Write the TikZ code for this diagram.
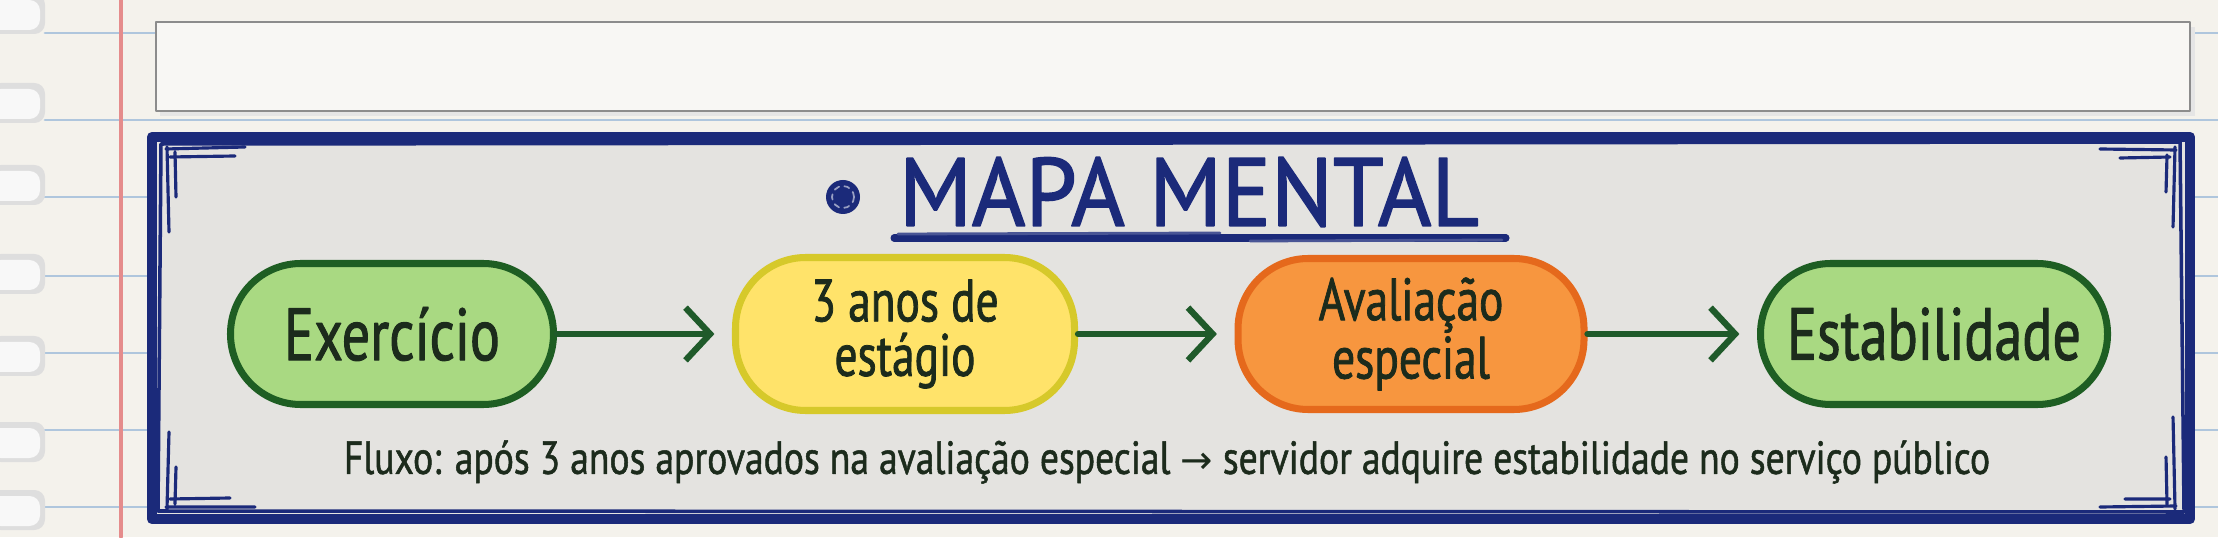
\documentclass[tikz,border=0pt]{standalone}
\usepackage{fontspec}
\setmainfont{PT Sans}
\newfontfamily\handfont{PT Sans}[FakeStretch=0.76, FakeBold=1.3]
\newfontfamily\notafont{PT Sans}[FakeStretch=0.81, FakeBold=1.1]
\newfontfamily\titlefont{PT Sans}[FakeStretch=0.95, FakeBold=1.6]
\newfontfamily\symfont{DejaVu Sans}
\usetikzlibrary{arrows.meta}
\definecolor{papel}{HTML}{F4F2EC}
\definecolor{quadro}{HTML}{E4E3E0}
\definecolor{azul}{HTML}{1B2A7A}
\definecolor{pauta}{HTML}{AFC6DD}
\definecolor{margem}{HTML}{E58C8C}
\definecolor{tinta}{HTML}{1C2B1C}
\definecolor{verde}{HTML}{A9D982}
\definecolor{verdeesc}{HTML}{1E5E23}
\definecolor{amarelo}{HTML}{FFE36A}
\definecolor{amareloesc}{HTML}{D6C92A}
\definecolor{laranja}{HTML}{F7963F}
\definecolor{laranjaesc}{HTML}{E5691C}
\definecolor{seta}{HTML}{1F5A2A}
\tikzset{
	etapa/.style={rounded corners=20pt, line width=2pt, align=center, inner sep=0pt, text=tinta},
	grande/.style={font=\handfont\fontsize{21}{22}\selectfont},
	duas/.style={font=\handfont\fontsize{17}{15.5}\selectfont},
	fluxo/.style={line width=1.8pt, draw=seta, shorten >=5pt}
}
\begin{document}
\begin{tikzpicture}[line join=round, line cap=round, >={Straight Barb[length=7pt,width=15pt]}]
				\def\W{22.18}
				\def\H{5.37}
				\path
				(1.52,0.18) coordinate (Q1)
				(21.9,4.00) coordinate (Q2)
				(3.92,2.03) coordinate (E1)
				(9.05,2.03) coordinate (E2)
				(14.11,2.03) coordinate (E3)
				(19.34,2.03) coordinate (E4)
				(8.43,3.40) coordinate (B)
				;
				\useasboundingbox (0,0) rectangle (\W,\H);
				\fill[papel] (0,0) rectangle (\W,\H);
				
				% folha: pautas, margem, furos
				\foreach \y in {5.04,4.17,3.40,2.61,1.84,1.07,0.30}
					\draw[pauta, line width=0.8pt] (0.45,\y) -- (\W,\y);
				\draw[margem, line width=0.9pt] (1.21,0) -- (1.21,\H);
				\foreach \y in {5.23,4.34,3.52,2.63,1.81,0.95,0.27}
				{
					\fill[black!13, rounded corners=3pt] (-0.1,\y-0.2) rectangle (0.45,\y+0.2);
					\fill[papel!70!black!8, rounded corners=3pt] (-0.1,\y-0.16) rectangle (0.40,\y+0.14);
				}
				
				% tira de cima
				\fill[black!10] (1.60,4.21) rectangle (21.95,5.10);
				\filldraw[fill=papel!60!white, draw=black!45, line width=0.6pt] (1.56,4.26) rectangle (21.9,5.15);
				
				% quadro
				\fill[quadro] (Q1) rectangle (Q2);
				\draw[azul, line width=3pt] (Q1) rectangle (Q2);
				\draw[azul, line width=1pt] (1.58,0.26) -- (1.61,3.93) -- (21.8,3.95) -- (21.84,0.25) -- cycle;
				\draw[azul, line width=0.9pt]
					(1.66,3.88) -- (2.45,3.90) (1.70,3.80) -- (2.35,3.81) (1.67,3.90) -- (1.69,3.05) (1.75,3.85) -- (1.76,3.40)
					(21.0,3.88) -- (21.76,3.87) (21.2,3.79) -- (21.7,3.80) (21.75,3.90) -- (21.73,3.10) (21.67,3.82) -- (21.66,3.45)
					(1.66,0.30) -- (2.55,0.30) (1.70,0.38) -- (2.30,0.39) (1.67,0.28) -- (1.69,1.05) (1.75,0.33) -- (1.76,0.70)
					(21.0,0.30) -- (21.76,0.31) (21.25,0.38) -- (21.7,0.38) (21.75,0.28) -- (21.73,1.20) (21.67,0.33) -- (21.66,0.80);
				
				% titulo
				\fill[azul] (B) circle (0.17);
				\draw[azul!45, dashed, line width=0.5pt, dash pattern=on 1.5pt off 1.5pt] (B) circle (0.11);
				\node[azul, font=\titlefont\fontsize{27.5}{28}\selectfont] (titulo) at (11.89,3.45) {MAPA MENTAL};
				\draw[azul, line width=2pt] (8.94,2.99) -- (15.06,2.99);
				\draw[azul!80, line width=0.8pt] (8.98,3.03) -- (12.2,3.04) (12.5,2.96) -- (15.02,2.97);
				
				% etapas
				\node[etapa, grande, fill=verde, draw=verdeesc, minimum width=3.23cm, minimum height=1.41cm] (exercicio) at (E1) {Exercício};
				\node[etapa, duas, fill=amarelo, draw=amareloesc, minimum width=3.39cm, minimum height=1.53cm] (estagio) at (E2) {3 anos de\\estágio};
				\node[etapa, duas, fill=laranja, draw=laranjaesc, minimum width=3.46cm, minimum height=1.51cm] (avaliacao) at (E3) {Avaliação\\especial};
				\node[etapa, grande, fill=verde, draw=verdeesc, minimum width=3.47cm, minimum height=1.41cm] (estabilidade) at (E4) {Estabilidade};
				
				\draw[fluxo,->] (exercicio) -- (estagio);
				\draw[fluxo,->] (estagio) -- (avaliacao);
				\draw[fluxo,->] (avaliacao) -- (estabilidade);
				
				\node[tinta, font=\notafont\fontsize{13.2}{14}\selectfont] (nota) at (11.67,0.75)
					{Fluxo: após 3 anos aprovados na avaliação especial {\symfont\fontsize{11}{12}\selectfont →} servidor adquire estabilidade no serviço público};
\end{tikzpicture}
\end{document}
